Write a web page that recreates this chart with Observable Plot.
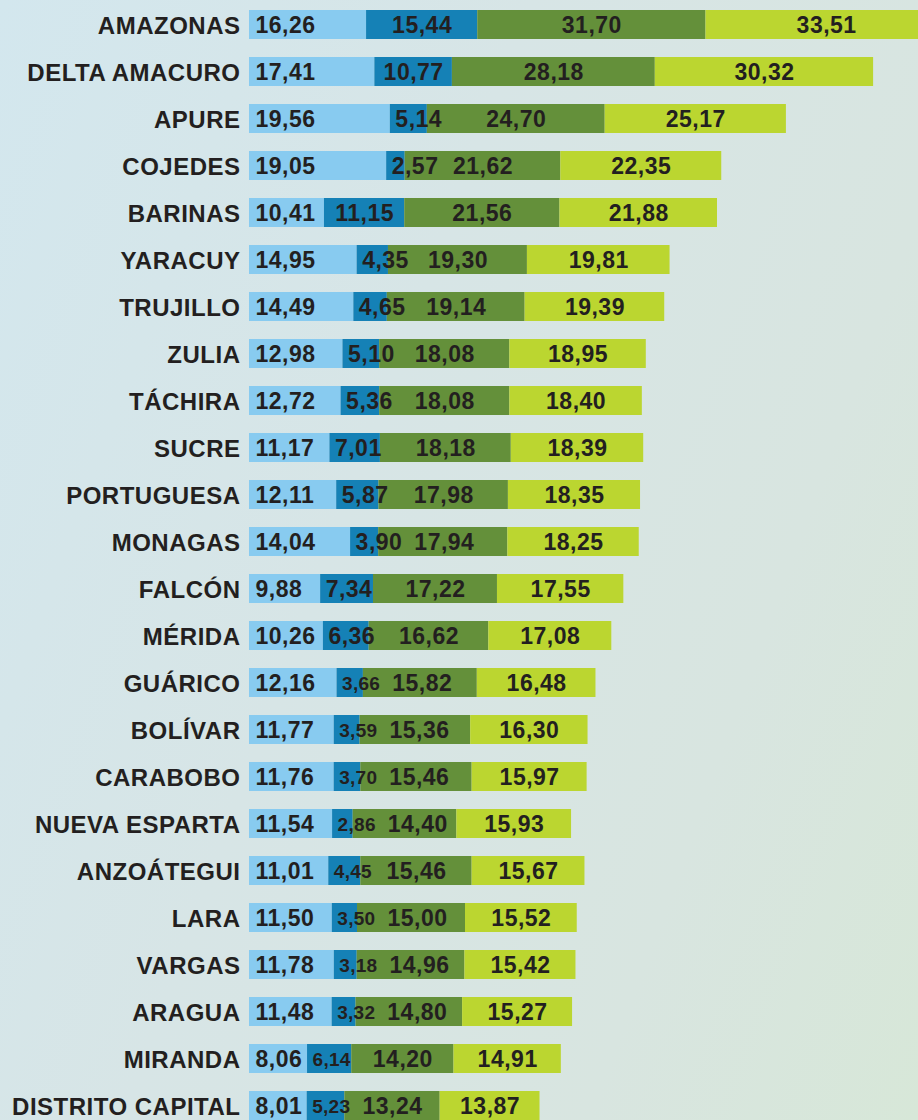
<!DOCTYPE html>
<html>
<head>
<meta charset="utf-8">
<script src="https://cdn.jsdelivr.net/npm/d3@7"></script>
<script src="https://cdn.jsdelivr.net/npm/@observablehq/plot@0.6"></script>
<style>
  html, body { margin: 0; padding: 0; width: 918px; height: 1120px; overflow: hidden; }
  body { background: linear-gradient(110deg, #d3e7ee 0%, #d7e5e6 40%, #d8e5e0 75%, #d7e7d8 100%); }
  #chart svg { background: transparent; display: block; }
</style>
</head>
<body>
<div id="chart"></div>
<script>
const states = ["AMAZONAS","DELTA AMACURO","APURE","COJEDES","BARINAS","YARACUY","TRUJILLO","ZULIA","TÁCHIRA","SUCRE","PORTUGUESA","MONAGAS","FALCÓN","MÉRIDA","GUÁRICO","BOLÍVAR","CARABOBO","NUEVA ESPARTA","ANZOÁTEGUI","LARA","VARGAS","ARAGUA","MIRANDA","DISTRITO CAPITAL"];
const serie1 = [16.26,17.41,19.56,19.05,10.41,14.95,14.49,12.98,12.72,11.17,12.11,14.04,9.88,10.26,12.16,11.77,11.76,11.54,11.01,11.50,11.78,11.48,8.06,8.01];
const serie2 = [15.44,10.77,5.14,2.57,11.15,4.35,4.65,5.10,5.36,7.01,5.87,3.90,7.34,6.36,3.66,3.59,3.70,2.86,4.45,3.50,3.18,3.32,6.14,5.23];
const serie3 = [31.70,28.18,24.70,21.62,21.56,19.30,19.14,18.08,18.08,18.18,17.98,17.94,17.22,16.62,15.82,15.36,15.46,14.40,15.46,15.00,14.96,14.80,14.20,13.24];
const serie4 = [33.51,30.32,25.17,22.35,21.88,19.81,19.39,18.95,18.40,18.39,18.35,18.25,17.55,17.08,16.48,16.30,15.97,15.93,15.67,15.52,15.42,15.27,14.91,13.87];
const seriesKeys = ["s1","s2","s3","s4"];
const seriesColors = ["#88cbf0","#1581b6","#64903a","#bbd630"];

const W = 918, H = 1120, left = 249;
const k = 7.2; // px per unit
const xMax = (W - left) / k;
const fmt = v => v.toFixed(2).replace(".", ",");

const BIG = 23, BIGSP = 0.5, SMALL = 19, SMALLSP = 0.3;

const rows = [];
states.forEach((s, i) => {
  const vals = [serie1[i], serie2[i], serie3[i], serie4[i]];
  let acc = 0;
  vals.forEach((v, j) => {
    rows.push({state: s, series: seriesKeys[j], value: v, x1: acc, x2: acc + v, i, j});
    acc += v;
  });
});

function textWidth(str, size, spacing) {
  let w = 0;
  for (const c of str) w += (c === "," ? 0.278 : 0.556) * size + spacing;
  return w;
}

const labels = [];
const seg2End = {};
rows.filter(d => d.j > 0).forEach(d => {
  const small = d.j === 1 && d.i >= 14;
  const size = small ? SMALL : BIG;
  const sp = small ? SMALLSP : BIGSP;
  const t = fmt(d.value);
  const w = textWidth(t, size, sp);
  let lx = (d.x1 + d.x2) / 2;
  if (d.j === 1) {
    lx = d.x1 + Math.max(d.value / 2, (5 + w / 2) / k);
    seg2End[d.i] = lx + (w / 2) / k;
  } else if (d.j === 2) {
    lx = Math.max(lx, seg2End[d.i] + (12 + w / 2) / k);
  }
  labels.push({...d, label: t, lx, size, sp});
});
const firsts = rows.filter(d => d.j === 0).map(d => ({...d, label: fmt(d.value)}));

const step = 47.0, pad = 0.384;
const r0 = 10 - step * pad;
const r1 = r0 + step * (states.length + pad);

const font = "Arial, 'Liberation Sans', Helvetica, sans-serif";
const ink = "#231f20";

const chart = Plot.plot({
  width: W, height: H,
  marginLeft: 0, marginRight: 0, marginTop: 0, marginBottom: 0,
  style: {background: "transparent", fontFamily: font},
  x: {domain: [0, xMax], range: [left, W], axis: null},
  y: {domain: states, range: [r0, r1], padding: pad, axis: null},
  color: {domain: seriesKeys, range: seriesColors},
  marks: [
    Plot.barX(rows, {y: "state", x1: "x1", x2: "x2", fill: "series"}),
    Plot.text(states, {x: 0, y: d => d, text: d => d, textAnchor: "end", dx: -9, dy: 1,
      fontSize: 24, fontWeight: "bold", fill: ink, fontFamily: font}),
    Plot.text(firsts, {x: "x1", y: "state", text: "label", textAnchor: "start", dx: 6, dy: 1,
      fontSize: BIG, fontWeight: "bold", fill: ink, fontFamily: font}),
    Plot.text(labels, {x: "lx", y: "state", text: "label", textAnchor: "middle", dy: 1,
      fontSize: "size", fontWeight: "bold", fill: ink, fontFamily: font})
  ]
});
const textGroups = d3.select(chart).selectAll('g[aria-label="text"]').nodes();
d3.select(textGroups[0]).selectAll("text").each(function() { this.style.letterSpacing = "0.5px"; });
d3.select(textGroups[1]).selectAll("text").each(function() { this.style.letterSpacing = BIGSP + "px"; });
d3.select(textGroups[2]).selectAll("text").each(function(_, idx) {
  this.style.letterSpacing = (labels[idx] ? labels[idx].sp : BIGSP) + "px";
});
document.getElementById("chart").appendChild(chart);
</script>
</body>
</html>
